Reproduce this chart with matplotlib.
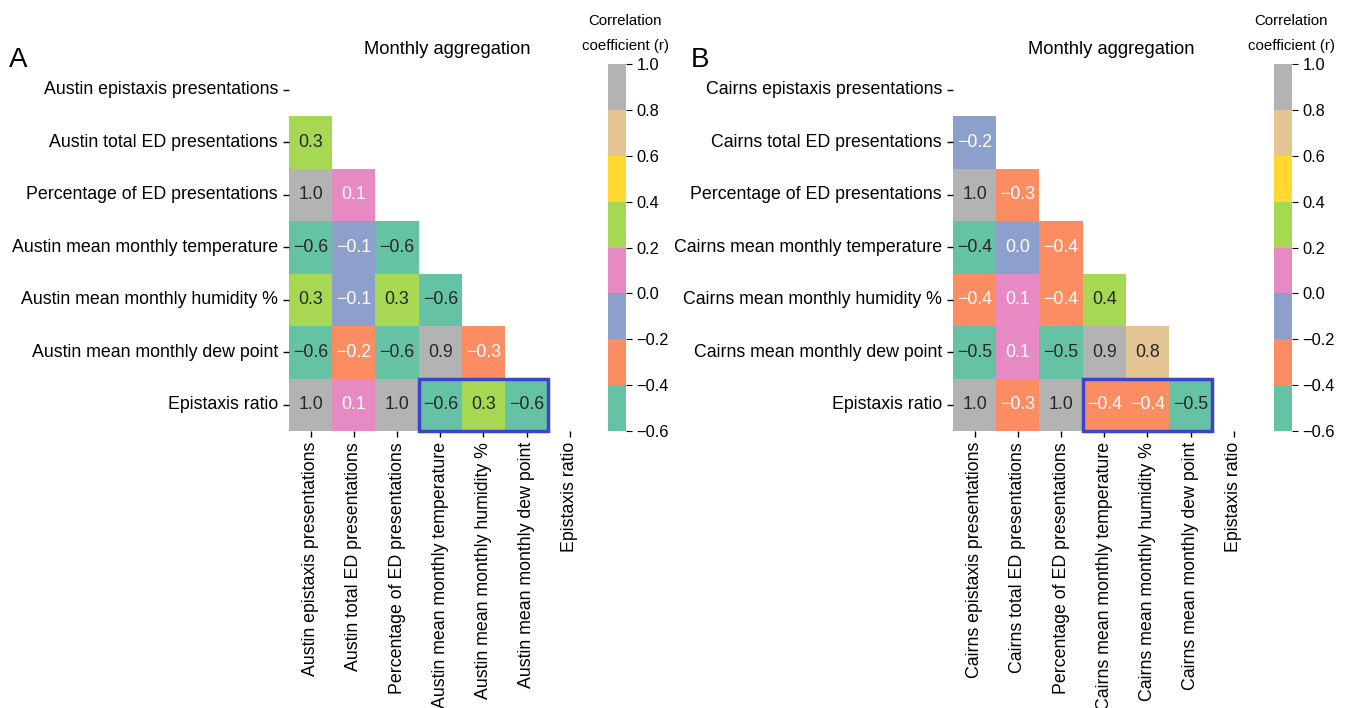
import numpy as np
import matplotlib
matplotlib.use("Agg")
import matplotlib.pyplot as plt
from matplotlib.colors import ListedColormap
from matplotlib.patches import Rectangle
import seaborn as sns

plt.rcParams['font.family'] = ['Liberation Sans', 'DejaVu Sans']

# variable names (rows / columns)
austin_vars = ["Austin epistaxis presentations", "Austin total ED presentations",
               "Percentage of ED presentations", "Austin mean monthly temperature",
               "Austin mean monthly humidity %", "Austin mean monthly dew point",
               "Epistaxis ratio"]
cairns_vars = ["Cairns epistaxis presentations", "Cairns total ED presentations",
               "Percentage of ED presentations", "Cairns mean monthly temperature",
               "Cairns mean monthly humidity %", "Cairns mean monthly dew point",
               "Epistaxis ratio"]

# lower triangle correlations, row by row (rows 1..6)
austin_lower = [
    [0.31],
    [0.99, 0.12],
    [-0.61, -0.09, -0.58],
    [0.31, -0.08, 0.29, -0.62],
    [-0.59, -0.21, -0.57, 0.91, -0.30],
    [0.99, 0.10, 0.99, -0.60, 0.28, -0.58],
]
cairns_lower = [
    [-0.18],
    [0.99, -0.31],
    [-0.42, -0.02, -0.38],
    [-0.38, 0.10, -0.37, 0.38],
    [-0.51, 0.12, -0.49, 0.91, 0.78],
    [0.99, -0.28, 0.99, -0.38, -0.36, -0.52],
]

cbar_ticks = [-0.6, -0.4, -0.2, 0.0, 0.2, 0.4, 0.6, 0.8, 1.0]
set2 = ["#66c2a5", "#fc8d62", "#8da0cb", "#e78ac3",
        "#a6d854", "#ffd92f", "#e5c494", "#b3b3b3"]
cmap = ListedColormap(set2)


def build(lower):
    n = len(lower) + 1
    m = np.zeros((n, n))
    for i, row in enumerate(lower):
        for j, v in enumerate(row):
            m[i + 1, j] = v
    mask = np.triu(np.ones((n, n), dtype=bool))
    labels = np.empty((n, n), dtype=object)
    for i in range(n):
        for j in range(n):
            s = "%.1f" % m[i, j]
            if s == "-0.0":
                s = "0.0"
            labels[i, j] = s.replace("-", "\u2212")
    return m, mask, labels


W, H = 1360, 708
fig = plt.figure(figsize=(W / 100, H / 100), dpi=100)


def px(x0, y0, x1, y1):
    return [x0 / W, 1 - y1 / H, (x1 - x0) / W, (y1 - y0) / H]


panels = [
    ("A", austin_vars, austin_lower, 289, 9, 608),
    ("B", cairns_vars, cairns_lower, 953, 691, 1274),
]

for letter, names, lower, hx, lx, cx in panels:
    m, mask, labels = build(lower)
    ax = fig.add_axes(px(hx, 116 - 52.4, hx + 7 * 43.2, 431))
    cax = fig.add_axes(px(cx, 64, cx + 18, 431))
    sns.heatmap(m, mask=mask, cmap=cmap, vmin=-0.6, vmax=1.0,
                annot=labels, fmt="", annot_kws={"fontsize": 12.8},
                ax=ax, cbar_ax=cax, cbar_kws={"ticks": cbar_ticks},
                xticklabels=names, yticklabels=names)
    ax.set_aspect("auto")
    ax.tick_params(axis="both", labelsize=12.8, length=4, width=1, pad=4)
    ax.set_xticklabels(names, rotation=90, fontsize=12.8)
    ax.set_yticklabels(names, rotation=0, fontsize=12.8)
    cax.tick_params(labelsize=11.8, length=4)
    ax.add_patch(Rectangle((3, 6), 3, 1, fill=False, edgecolor="#3c44c8",
                           linewidth=2.5, clip_on=False, zorder=5))
    fig.text(lx / W, 1 - 67 / H, letter, fontsize=20, ha="left", va="baseline")
    fig.text((hx + 158) / W, 1 - 54 / H, "Monthly aggregation", fontsize=13.2,
             ha="center", va="baseline")
    fig.text((cx + 17) / W, 1 - 25 / H, "Correlation", fontsize=10.8,
             ha="center", va="baseline")
    fig.text((cx + 17) / W, 1 - 50 / H, "coefficient (r)", fontsize=10.8,
             ha="center", va="baseline")

fig.savefig("out.png", dpi=100)
